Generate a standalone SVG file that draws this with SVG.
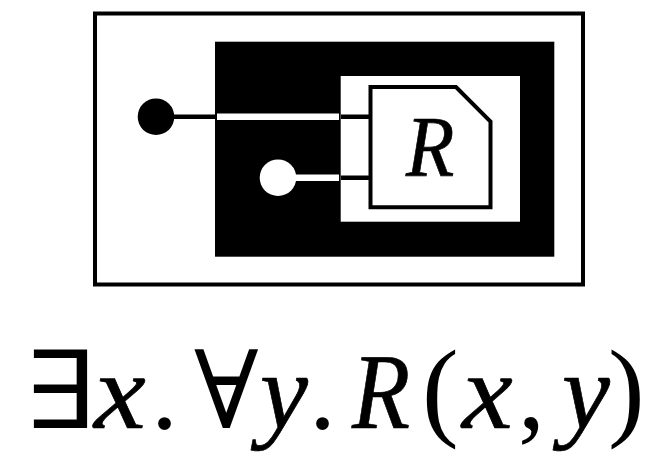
<svg xmlns="http://www.w3.org/2000/svg" width="646" height="458" viewBox="0 0 646 458">
<style>
.m{font-family:"Liberation Serif","DejaVu Serif",serif;fill:#000}
.i{font-style:italic;stroke:#000;stroke-width:.7px}
.f{font-size:108px}
.p{font-size:110px}
</style>
<rect width="646" height="458" fill="#fff"/>
<g id="outer"><rect x="95" y="13.5" width="488" height="271" fill="#fff" stroke="#000" stroke-width="4"/></g>
<g id="cut-black"><rect x="215" y="41.7" width="339.3" height="215" fill="#000"/></g>
<g id="cut-white"><rect x="340.7" y="76" width="179.3" height="145.7" fill="#fff"/></g>
<g id="connectors" fill="none">
<path d="M170 116.7H215M341 116.7H372M341 177.7H372" stroke="#000" stroke-width="4.4"/>
<path d="M217 116.7H339M292 177.7H339" stroke="#fff" stroke-width="6.4"/>
</g>
<g id="port-x"><circle cx="156" cy="116.7" r="18.3" fill="#000"/></g>
<g id="port-y"><circle cx="278" cy="177.7" r="18.3" fill="#fff"/></g>
<g id="relation-R">
<path d="M370.5 87H456L490.5 121.5V207.3H370.5Z" fill="#fff" stroke="#000" stroke-width="4"/>
<text class="m i" transform="translate(406 176) scale(.92 1)" font-size="86">R</text>
</g>
<g id="formula">
<text class="m f" transform="translate(26 428) scale(1.22 1)">∃</text>
<text class="m f i" transform="translate(94 428) scale(1.08 1)">x</text>
<text class="m f" transform="translate(151 428)">.</text>
<text class="m f" transform="translate(194 428) scale(.99 1)">∀</text>
<text class="m f i" transform="translate(260 428)">y</text>
<text class="m f" transform="translate(309 428)">.</text>
<text class="m f i" transform="translate(352 428) scale(.88 1)">R</text>
<text class="m p" x="422" y="426">(</text>
<text class="m f i" transform="translate(462 428) scale(1.06 1)">x</text>
<text class="m f" x="518" y="428">,</text>
<text class="m f i" x="562" y="428">y</text>
<text class="m p" x="608" y="426">)</text>
</g>
</svg>
